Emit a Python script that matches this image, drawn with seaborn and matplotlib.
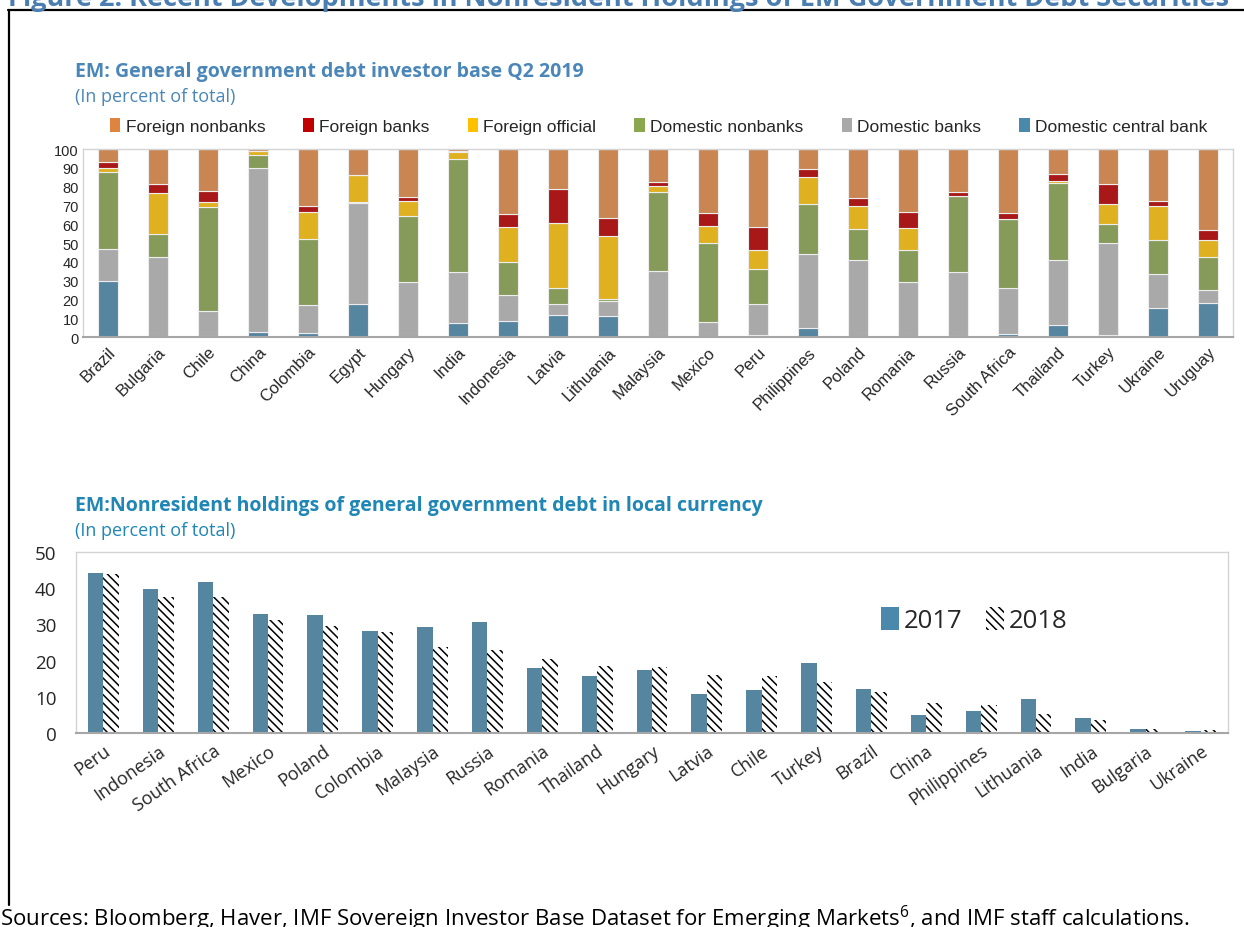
import matplotlib.pyplot as plt
import numpy as np
import pandas as pd
import seaborn as sns
from matplotlib.lines import Line2D
from matplotlib.patches import Patch

# --- top panel: investor base, Q2 2019 (percent of total) ---
TOP_COUNTRIES = ["Brazil", "Bulgaria", "Chile", "China", "Colombia", "Egypt", "Hungary",
                 "India", "Indonesia", "Latvia", "Lithuania", "Malaysia", "Mexico", "Peru",
                 "Philippines", "Poland", "Romania", "Russia", "South Africa", "Thailand",
                 "Turkey", "Ukraine", "Uruguay"]
DOM_CENTRAL_BANK = [30.0, 0.0, 0.3, 2.7, 2.1, 17.6, 0.0, 7.5, 8.3, 11.7, 11.2, 0.2, 0.0, 1.1,
                    5.0, 0.0, 0.0, 0.5, 1.6, 6.2, 0.9, 15.5, 18.1]
DOM_BANKS = [16.7, 42.3, 13.7, 87.0, 14.8, 53.8, 29.5, 27.0, 13.9, 6.1, 7.8, 34.8, 7.8, 16.3,
             39.4, 41.2, 29.5, 34.0, 24.7, 34.5, 49.0, 17.9, 6.9]
DOM_NONBANKS = [41.2, 12.4, 55.3, 7.3, 35.3, 0.2, 34.6, 60.2, 17.8, 8.3, 1.4, 41.9, 42.1, 18.7,
                26.5, 16.5, 17.0, 40.3, 36.4, 41.4, 10.3, 18.3, 17.3]
FOR_OFFICIAL = [2.1, 21.7, 2.3, 2.1, 14.4, 14.7, 8.5, 3.9, 18.6, 34.8, 33.2, 3.4, 8.9, 10.4,
                14.4, 12.1, 11.6, 0.0, 0.0, 1.0, 10.7, 18.1, 9.4]
FOR_BANKS = [2.9, 5.1, 5.8, 0.1, 3.2, 0.0, 2.0, 0.5, 6.6, 17.6, 9.8, 2.3, 7.1, 12.1,
             4.2, 4.3, 8.5, 2.1, 3.2, 3.8, 10.6, 2.7, 5.3]
FOR_NONBANKS = [7.1, 18.5, 22.6, 0.8, 30.2, 13.7, 25.4, 0.9, 34.8, 21.5, 36.6, 17.4, 34.1, 41.4,
                10.5, 25.9, 33.4, 23.1, 34.1, 13.1, 18.5, 27.5, 43.0]

# stacking order bottom -> top
SECTORS = ["Domestic central bank", "Domestic banks", "Domestic nonbanks",
           "Foreign official", "Foreign banks", "Foreign nonbanks"]
SECTOR_VALUES = [DOM_CENTRAL_BANK, DOM_BANKS, DOM_NONBANKS, FOR_OFFICIAL, FOR_BANKS, FOR_NONBANKS]
SECTOR_COLORS = ["#4A89AC", "#A9A9A9", "#8AA64F", "#FFC000", "#C00000", "#DD843E"]

# --- bottom panel: nonresident holdings in local currency ---
BOT_COUNTRIES = ["Peru", "Indonesia", "South Africa", "Mexico", "Poland", "Colombia",
                 "Malaysia", "Russia", "Romania", "Thailand", "Hungary", "Latvia", "Chile",
                 "Turkey", "Brazil", "China", "Philippines", "Lithuania", "India", "Bulgaria",
                 "Ukraine"]
HOLD_2017 = [44.3, 39.8, 41.6, 32.9, 32.6, 28.2, 29.4, 30.8, 18.0, 15.8, 17.3, 10.8, 12.0,
             19.4, 12.2, 5.1, 6.0, 9.5, 4.1, 1.2, 0.6]
HOLD_2018 = [44.0, 37.6, 37.6, 31.1, 29.6, 27.9, 23.7, 23.0, 20.5, 18.6, 18.3, 16.1, 15.8,
             14.1, 11.4, 8.4, 7.6, 5.3, 3.6, 1.0, 0.8]
YEARS = ["2017", "2018"]

W, H = 1244, 928
BLUE = "#4A89AC"
HATCH = "\\" * 4


def fx(px):
    return px / W


def fy(px):
    return 1 - px / H


def main() -> None:
    sns.set_style("white")
    plt.rcParams["font.family"] = ["Liberation Sans", "DejaVu Sans"]
    plt.rcParams["hatch.linewidth"] = 1.1
    plt.rcParams["hatch.color"] = "black"

    fig = plt.figure(figsize=(W / 100, H / 100), dpi=100)

    # ---------- top chart ----------
    ax1 = fig.add_axes([fx(83), fy(338), fx(1150), 188 / H])
    base = np.zeros(len(TOP_COUNTRIES))
    for name, vals, col in zip(SECTORS, SECTOR_VALUES, SECTOR_COLORS):
        vals = np.asarray(vals)
        sns.barplot(x=TOP_COUNTRIES, y=vals, bottom=base, color=col, width=0.4,
                    edgecolor="#EDEDED", linewidth=0.8, errorbar=None, ax=ax1)
        base = base + vals
    ax1.set_ylim(0, 100)
    ax1.set_xlim(-0.5, len(TOP_COUNTRIES) - 0.5)
    ax1.set_yticks(np.arange(0, 101, 10))
    ax1.set_xlabel("")
    ax1.set_ylabel("")
    ax1.set_xticks(np.arange(-0.5, len(TOP_COUNTRIES)), minor=True)
    ax1.tick_params(axis="x", which="major", length=0, pad=5)
    ax1.tick_params(axis="x", which="minor", direction="in", length=4, color="#BFBFBF", width=1)
    ax1.tick_params(axis="y", length=0, pad=3, labelsize=10.5)
    plt.setp(ax1.get_xticklabels(), rotation=45, ha="right", rotation_mode="anchor", fontsize=12)
    for s in ax1.spines.values():
        s.set_color("#D4D4D4")
        s.set_linewidth(1)
    ax1.spines["bottom"].set_color("#A6A6A6")
    ax1.spines["bottom"].set_linewidth(1.5)

    handles = [Patch(facecolor=c, edgecolor="none") for c in SECTOR_COLORS][::-1]
    fig.legend(handles, SECTORS[::-1], ncol=6, loc="center left",
               bbox_to_anchor=(fx(110), fy(127)), frameon=False, fontsize=12.5,
               handlelength=0.6, handleheight=0.9, handletextpad=0.3, columnspacing=2.2,
               borderpad=0, borderaxespad=0)

    fig.text(fx(75), fy(72), "EM: General government debt investor base Q2 2019",
             color="#4A86B8", fontsize=14, fontweight="bold", family="Open Sans", va="center")
    fig.text(fx(75), fy(97), "(In percent of total)", color="#4A86B8", fontsize=13,
             family="Open Sans", va="center")

    # ---------- bottom chart ----------
    ax2 = fig.add_axes([fx(76), fy(734), fx(1152), 181 / H])
    df = pd.DataFrame({
        "country": BOT_COUNTRIES * 2,
        "year": [YEARS[0]] * len(BOT_COUNTRIES) + [YEARS[1]] * len(BOT_COUNTRIES),
        "value": HOLD_2017 + HOLD_2018,
    })
    sns.barplot(data=df, x="country", y="value", hue="year", hue_order=YEARS,
                palette={"2017": BLUE, "2018": "white"}, width=0.56, gap=0,
                errorbar=None, legend=False, linewidth=0, ax=ax2)
    for bar in ax2.containers[1]:
        bar.set_hatch(HATCH)
        bar.set_edgecolor("black")
        bar.set_linewidth(0)
    ax2.set_ylim(0, 50)
    ax2.set_xlim(-0.5, len(BOT_COUNTRIES) - 0.5)
    ax2.set_yticks(np.arange(0, 51, 10))
    ax2.set_xlabel("")
    ax2.set_ylabel("")
    ax2.set_xticks(np.arange(-0.5, len(BOT_COUNTRIES)), minor=True)
    ax2.tick_params(axis="x", which="major", length=0, pad=6)
    ax2.tick_params(axis="x", which="minor", direction="in", length=4, color="#BFBFBF", width=1)
    ax2.tick_params(axis="y", length=0, pad=14)
    for lab in ax2.get_yticklabels():
        lab.set_family("Open Sans")
        lab.set_fontsize(13.5)
    for lab in ax2.get_xticklabels():
        lab.set_family("Open Sans")
        lab.set_fontsize(13)
        lab.set_rotation(35)
        lab.set_ha("right")
        lab.set_rotation_mode("anchor")
    for s in ax2.spines.values():
        s.set_color("#D4D4D4")
        s.set_linewidth(1)
    ax2.spines["bottom"].set_color("#A6A6A6")
    ax2.spines["bottom"].set_linewidth(1.5)

    leg_handles = [Patch(facecolor=BLUE, edgecolor="none"),
                   Patch(facecolor="white", edgecolor="black", hatch=HATCH, linewidth=0)]
    ax2.legend(leg_handles, YEARS, loc="center left", bbox_to_anchor=(fx(881), fy(621)),
               bbox_transform=fig.transFigure, ncol=2, frameon=False,
               prop={"family": "Open Sans", "size": 18.5}, handlelength=0.7, handleheight=1.0,
               handletextpad=0.2, columnspacing=0.9, borderpad=0, borderaxespad=0)

    fig.text(fx(75), fy(506), "EM:Nonresident holdings of general government debt in local currency",
             color="#1F86B5", fontsize=14, fontweight="bold", family="Open Sans", va="center")
    fig.text(fx(75), fy(531), "(In percent of total)", color="#1F86B5", fontsize=13,
             family="Open Sans", va="center")

    # ---------- box frame, figure title and source ----------
    fig.add_artist(Line2D([fx(8), 1], [fy(11), fy(11)], color="black", lw=1.6))
    fig.add_artist(Line2D([fx(8.5), fx(8.5)], [fy(11), fy(906)], color="black", lw=1.6))
    fig.text(fx(8), fy(6), "Figure 2. Recent Developments in Nonresident Holdings of EM Government Debt Securities",
             color="#4A7EB0", fontsize=19.5, fontweight="bold", family="Open Sans", va="baseline")
    fig.text(fx(0), fy(926),
             r"Sources: Bloomberg, Haver, IMF Sovereign Investor Base Dataset for Emerging Markets$^{\mathregular{6}}$, and IMF staff calculations.",
             fontsize=16, family="Open Sans", va="baseline", color="black")

    fig.savefig("out.png", dpi=100)
    plt.close(fig)


if __name__ == "__main__":
    main()
